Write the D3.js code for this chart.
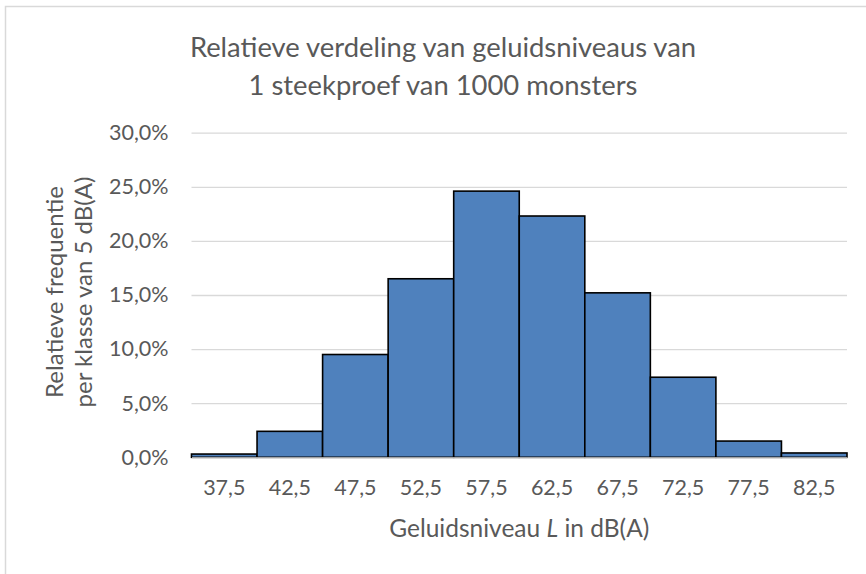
<!DOCTYPE html>
<html>
<head>
  <meta charset="UTF-8">
  <style>
    body { margin: 0; background: #fff; }
    svg { display: block; font-family: Lato, "Open Sans", sans-serif; }
  </style>
</head>
<body>
<svg></svg>
<script src="https://d3js.org/d3.v7.min.js"></script>
<script>

// klassen (midden van elke klasse van 5 dB(A)) en relatieve frequentie
const classes = ["37,5", "42,5", "47,5", "52,5", "57,5", "62,5", "67,5", "72,5", "77,5", "82,5"];
const freqs = [0.003, 0.024, 0.095, 0.165, 0.246, 0.223, 0.152, 0.074, 0.015, 0.004];
const yTicks = [0, 0.05, 0.10, 0.15, 0.20, 0.25, 0.30];
const titleLines = ["Relatieve verdeling van geluidsniveaus van", "1 steekproef van 1000 monsters"];
const yTitleLines = ["Relatieve frequentie", "per klasse van 5 dB(A)"];

let width = 866, height = 574;
const plot = { left: 191.5, right: 847, top: 132.7, bottom: 457.3 };
const textCol = "#595959";

let svg = d3.select("svg")
    .attr("width", width)
    .attr("height", height);

// chart frame (only top and left edge visible)
svg.append("rect")
    .attr("x", 5.5).attr("y", 6.5)
    .attr("width", 900).attr("height", 600)
    .attr("fill", "white")
    .attr("stroke", "#d9d9d9")
    .attr("stroke-width", 1.5);

const nl = d3.formatLocale({ decimal: ",", thousands: ".", grouping: [3], currency: ["€", ""] });
const pct = nl.format(".1%");

let x = d3.scaleBand()
    .domain(classes)
    .range([plot.left, plot.right])
    .padding(0);

let y = d3.scaleLinear()
    .domain([0, 0.3])
    .range([plot.bottom, plot.top]);

// gridlines + y labels
let yAxis = d3.axisLeft(y)
    .tickValues(yTicks)
    .tickFormat(pct)
    .tickSize(-(plot.right - plot.left))
    .tickPadding(23);

let gy = svg.append("g")
    .attr("transform", "translate(" + plot.left + ",0)")
    .call(yAxis);
gy.select(".domain").remove();
gy.selectAll(".tick line").attr("stroke", "#d9d9d9").attr("stroke-width", 1.3);
gy.selectAll(".tick text")
    .attr("fill", textCol)
    .style("font-size", "21.5px")
    .style("font-family", "Lato");

// bars
svg.append("g")
    .selectAll("rect")
    .data(freqs)
    .enter()
    .append("rect")
    .attr("x", (d, i) => x(classes[i]))
    .attr("y", d => y(d))
    .attr("width", x.bandwidth())
    .attr("height", d => y(0) - y(d))
    .attr("fill", "#4f81bd")
    .attr("stroke", "black")
    .attr("stroke-width", 1.6);

// x axis
let xAxis = d3.axisBottom(x).tickSize(0).tickPadding(22);
let gx = svg.append("g")
    .attr("transform", "translate(0," + plot.bottom + ")")
    .call(xAxis);
gx.select(".domain").attr("stroke", "#d9d9d9").attr("stroke-width", 1.3);
gx.selectAll(".tick text")
    .attr("fill", textCol)
    .style("font-size", "21.5px")
    .style("font-family", "Lato");

// title
svg.append("text")
    .attr("text-anchor", "middle")
    .attr("fill", textCol)
    .style("font-size", "27.4px")
    .selectAll("tspan")
    .data(titleLines)
    .enter()
    .append("tspan")
    .attr("x", 443)
    .attr("y", (d, i) => 57 + i * 38)
    .text(d => d);

// x axis title
let xt = svg.append("text")
    .attr("x", (plot.left + plot.right) / 2)
    .attr("y", 537)
    .attr("text-anchor", "middle")
    .attr("fill", textCol)
    .style("font-size", "24.5px");
xt.append("tspan").text("Geluidsniveau ");
xt.append("tspan").style("font-style", "italic").text("L");
xt.append("tspan").text(" in dB(A)");

// y axis title
svg.append("g")
    .attr("transform", "translate(0,292) rotate(-90)")
    .selectAll("text")
    .data(yTitleLines)
    .enter()
    .append("text")
    .attr("x", 0)
    .attr("y", (d, i) => 63 + i * 29)
    .attr("text-anchor", "middle")
    .attr("fill", textCol)
    .style("font-size", "24px")
    .text(d => d);

</script>
</body>
</html>
